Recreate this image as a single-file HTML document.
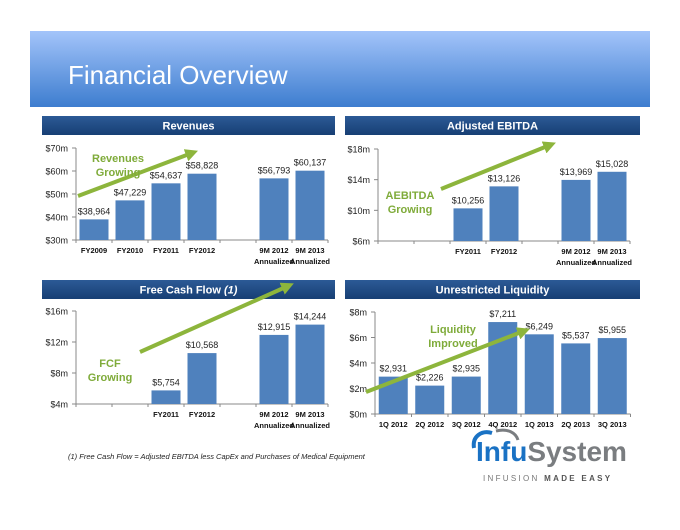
<!DOCTYPE html>
<html><head><meta charset="utf-8"><style>
body{margin:0;width:680px;height:525px;background:#fff;overflow:hidden}
svg text{font-family:"Liberation Sans",sans-serif}
</style></head><body>
<svg id="s" width="680" height="525" xmlns="http://www.w3.org/2000/svg">
<defs>
<linearGradient id="hdr" x1="0" y1="0" x2="0" y2="1"><stop offset="0" stop-color="#a3c4fa"/><stop offset="1" stop-color="#3d7dcf"/></linearGradient>
<linearGradient id="ph" x1="0" y1="0" x2="0" y2="1"><stop offset="0" stop-color="#2c5a96"/><stop offset="1" stop-color="#173f74"/></linearGradient>
<marker id="ah" viewBox="0 0 10 10" refX="5" refY="5" markerWidth="3.2" markerHeight="3.2" orient="auto"><path d="M0,0L10,5L0,10z" fill="#8db53c"/></marker>
</defs>
<rect x="30" y="31" width="620" height="76" fill="url(#hdr)"/>
<text x="68" y="84" font-size="26" fill="#fff">Financial Overview</text>
<text x="68" y="459" font-size="7.5" font-style="italic" fill="#222">(1) Free Cash Flow = Adjusted EBITDA less CapEx and Purchases of Medical Equipment</text>
<text x="476" y="461" font-size="28" font-weight="bold"><tspan fill="#1a72c4">Infu</tspan><tspan fill="#7a7d80">System</tspan></text>
<path d="M474,448 C472,436 482,430 492,433" stroke="#1a72c4" stroke-width="4" fill="none"/>
<path d="M496,431 C508,428 516,433 518,440" stroke="#7a7d80" stroke-width="3" fill="none"/>
<text x="483" y="481" font-size="8" letter-spacing="2.3" fill="#777">INFUSION <tspan font-weight="bold" fill="#555">MADE EASY</tspan></text>
<g id="g"></g>
</svg>
<script>
const NS="http://www.w3.org/2000/svg";
const revCats=["FY2009","FY2010","FY2011","FY2012","","9M 2012|Annualized","9M 2013|Annualized"];
const revVals=[38964,47229,54637,58828,null,56793,60137];
const revTicks=[30,40,50,60,70];
const ebCats=["","","FY2011","FY2012","","9M 2012|Annualized","9M 2013|Annualized"];
const ebVals=[null,null,10256,13126,null,13969,15028];
const ebTicks=[6,10,14,18];
const fcfCats=["","","FY2011","FY2012","","9M 2012|Annualized","9M 2013|Annualized"];
const fcfVals=[null,null,5754,10568,null,12915,14244];
const fcfTicks=[4,8,12,16];
const liqCats=["1Q 2012","2Q 2012","3Q 2012","4Q 2012","1Q 2013","2Q 2013","3Q 2013"];
const liqVals=[2931,2226,2935,7211,6249,5537,5955];
const liqTicks=[0,2,4,6,8];
const g=document.getElementById('g');
function el(t,a,txt){const e=document.createElementNS(NS,t);for(const k in a)e.setAttribute(k,a[k]);if(txt!=null)e.textContent=txt;g.appendChild(e);return e;}
function chart(o){
  const h=el('path',{d:`M${o.hx},${o.hy}h${o.hw}v19h-${o.hw}z`,fill:'url(#ph)'});
  
  
  const ht=el('text',{x:o.hx+o.hw/2,y:o.hy+13.5,'font-size':11,'font-weight':'bold',fill:'#fff','text-anchor':'middle'},'');
  
  
  ht.innerHTML=o.title;
  const min=o.ticks[0],max=o.ticks[o.ticks.length-1];
  const y=v=>o.y1-(v-min)/(max-min)*(o.y1-o.y0);
  const n=o.cats.length,sw=o.sw;
  const xr=o.x0+n*sw;
  el('line',{x1:o.x0,y1:o.y0,x2:o.x0,y2:o.y1,stroke:'#888','stroke-width':1});
  el('line',{x1:o.x0,y1:o.y1,x2:xr,y2:o.y1,stroke:'#888','stroke-width':1});
  o.ticks.forEach(t=>{
    el('line',{x1:o.x0-4,y1:y(t),x2:o.x0,y2:y(t),stroke:'#888'});
    const tt=el('text',{x:o.x0-8,y:y(t)+3.5,'font-size':9,fill:'#222','text-anchor':'end'},'$'+t+'m');
    
    
  });
  for(let i=0;i<=n;i++)el('line',{x1:o.x0+i*sw,y1:o.y1,x2:o.x0+i*sw,y2:o.y1+3,stroke:'#888'});
  o.cats.forEach((c,i)=>{
    const cx=o.x0+(i+0.5)*sw;
    const v=o.vals[i];
    if(v!=null){
      const b=el('rect',{x:cx-14.5,y:y(v/1000),width:29,height:o.y1-y(v/1000),fill:'#4f81bd'});
      
      
      const l=el('text',{x:cx,y:y(v/1000)-5,'font-size':9,fill:'#222','text-anchor':'middle'},'$'+v.toLocaleString('en-US'));
      
      
    }
    c.split('|').forEach((p,j)=>{if(!p)return;
      const t=el('text',{x:cx,y:o.y1+13+j*11,'font-size':7.5,'font-weight':'bold',fill:'#111','text-anchor':'middle'},p);
      
      
    });
  });
  const a=el('line',{x1:o.ar[0],y1:o.ar[1],x2:o.ar[2],y2:o.ar[3],stroke:'#8db53c','stroke-width':4,'marker-end':'url(#ah)'});
  
  
  o.note.forEach((s,j)=>{
    const t=el('text',{x:o.nx,y:o.ny+j*14,'font-size':11,'font-weight':'bold',fill:'#7fab3a','text-anchor':'middle'},s);
    
    
  });
}
chart({name:'revenues',title:'Revenues',hx:42,hy:116,hw:293,cats:revCats,vals:revVals,ticks:revTicks,x0:76,sw:36,y0:148,y1:240,ar:[78,196,192,153],note:['Revenues','Growing'],nx:118,ny:162});
chart({name:'ebitda',title:'Adjusted EBITDA',hx:345,hy:116,hw:295,cats:ebCats,vals:ebVals,ticks:ebTicks,x0:378,sw:36,y0:149,y1:241,ar:[441,189,550,145],note:['AEBITDA','Growing'],nx:410,ny:199});
chart({name:'fcf',title:'Free Cash Flow <tspan font-style="italic">(1)</tspan>',hx:42,hy:280,hw:293,cats:fcfCats,vals:fcfVals,ticks:fcfTicks,x0:76,sw:36,y0:311,y1:404,ar:[140,352,288,286],note:['FCF','Growing'],nx:110,ny:367});
chart({name:'liquidity',title:'Unrestricted Liquidity',hx:345,hy:280,hw:295,cats:liqCats,vals:liqVals,ticks:liqTicks,x0:375,sw:36.5,y0:312,y1:414,ar:[366,392,524,331],note:['Liquidity','Improved'],nx:453,ny:333});
</script>
</body></html>
